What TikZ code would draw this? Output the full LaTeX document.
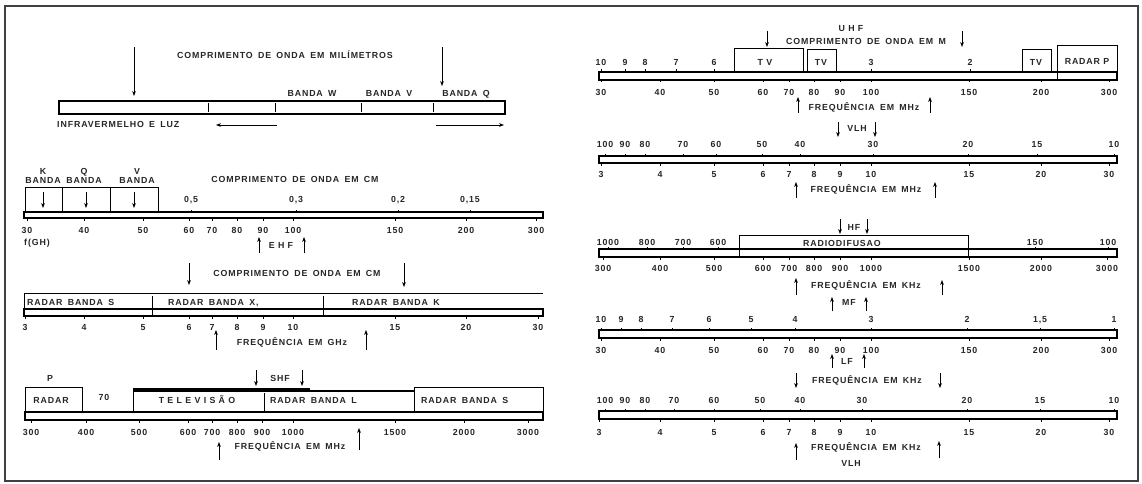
\documentclass[tikz,border=0pt]{standalone}
\usepackage{fontspec}
\setmainfont{Liberation Sans}[LetterSpace=10]
\usetikzlibrary{arrows.meta}
\newcommand{\wsp}{\hspace{0.6em}}
\tikzset{
  txt/.style={font=\fontsize{8.8}{9}\selectfont\bfseries, inner sep=0pt, text=black!85,
    text height=6.4pt, text depth=0pt},
  bar/.style={line width=1.1pt},
  tick/.style={line width=0.7pt},
  band/.style={line width=1pt},
  arr/.style={-{Stealth[length=5pt,width=3.8pt]}, line width=0.9pt},
}
\begin{document}
\begin{tikzpicture}[x=1pt,y=-1pt]
  \useasboundingbox (0,0) rectangle (1142,484);
  \draw[line width=1.5pt, black!75] (5,6) rectangle (1138,481);

  % millimetres
  \node[txt] (tA) at (285,55) {COMPRIMENTO\wsp DE\wsp ONDA\wsp EM\wsp MILÍMETROS};
  \draw[arr] (134,47) -- (134,96);
  \draw[arr] (442,47) -- (442,86);
  \draw[bar] (59,101) rectangle (505,114);
  \foreach \x in {208,275,361,433} \draw[tick] (\x,103) -- (\x,112);
  \foreach \x/\t [count=\k] in {312/W,389/V,466/Q} \node[txt] (bA\k) at (\x,93) {BANDA\wsp \t};
  \node[txt, anchor=west] (ir) at (57,124) {INFRAVERMELHO\wsp E\wsp LUZ};
  \draw[arr] (277,125) -- (216,125);
  \draw[arr] (436,125) -- (504,125);

  % EHF
  \foreach \x/\t [count=\k] in {43/K,84/Q,137/V} {
    \node[txt] (lB\k) at (\x,171) {\t};
    \node[txt] (nB\k) at (\x,180) {BANDA};
  }
  \draw[band] (25,212) |- (158,187) -- (158,212);
  \foreach \x in {62,110} \draw[band] (\x,187) -- (\x,212);
  \foreach \x in {43,86,134} \draw[arr] (\x,192) -- (\x,208);
  \node[txt] (tB) at (295,179) {COMPRIMENTO\wsp DE\wsp ONDA\wsp EM\wsp CM};
  \foreach \x/\t [count=\k] in {191/{0,5},296/{0,3},398/{0,2},470/{0,15}} {
    \draw[tick] (\x,212) -- ++(0,-2.5);
    \node[txt] (wB\k) at (\x,199) {\t};
  }
  \draw[bar] (24,212) rectangle (543,218);
  \foreach \x/\t [count=\k] in {27/30,84/40,143/50,189/60,212/70,237/80,263/90,293/100,395/150,466/200,536/300} {
    \draw[tick] (\x,218) -- ++(0,2.5);
    \node[txt] (fB\k) at (\x,230) {\t};
  }
  \node[txt, anchor=west] (gh) at (24,242) {f(GH)};
  \draw[arr] (259,253) -- (259,237);
  \draw[arr] (304,253) -- (304,237);
  \node[txt] (ehf) at (281,245) {E H F};

  % GHz
  \node[txt] (tC) at (297,273) {COMPRIMENTO\wsp DE\wsp ONDA\wsp EM\wsp CM};
  \draw[arr] (189,263) -- (189,285);
  \draw[arr] (404,263) -- (404,287);
  \draw[band] (24,309) |- (543,293);
  \foreach \x in {152,323} \draw[band] (\x,296) -- (\x,316);
  \node[txt, anchor=west] (rS) at (27,302) {RADAR\wsp BANDA\wsp S};
  \node[txt, anchor=west] (rX) at (168,302) {RADAR\wsp BANDA\wsp X,};
  \node[txt, anchor=west] (rK) at (352,302) {RADAR\wsp BANDA\wsp K};
  \draw[bar] (24,309) rectangle (543,316);
  \foreach \x/\t [count=\k] in {25/3,84/4,143/5,189/6,212/7,237/8,263/9,293/10,395/15,466/20,538/30} {
    \draw[tick] (\x,316) -- ++(0,2.5);
    \node[txt] (fC\k) at (\x,327) {\t};
  }
  \draw[arr] (216,350) -- (216,330);
  \draw[arr] (366,350) -- (366,330);
  \node[txt] (qC) at (292,342) {FREQUÊNCIA\wsp EM\wsp GHz};

  % MHz left
  \node[txt] (pD) at (50,378) {P};
  \draw[arr] (256,370) -- (256,386);
  \draw[arr] (302,370) -- (302,386);
  \node[txt] (shf) at (280,378) {SHF};
  \draw[band] (25,412) |- (82,387) -- (82,412);
  \node[txt] (rD) at (51,400) {RADAR};
  \node[txt] (sD) at (104,397) {70};
  \draw[line width=3.5pt] (133,390) -- (310,390);
  \draw[line width=2pt] (310,391) -- (414,391);
  \draw[band] (133,390) -- (133,412);
  \draw[band] (264,393) -- (264,412);
  \draw[band] (414,412) |- (543,387) -- (543,412);
  \node[txt] (tv) at (197,400) {T E L E V I S Ã O};
  \node[txt, anchor=west] (rL) at (270,400) {RADAR\wsp BANDA\wsp L};
  \node[txt, anchor=west] (rS2) at (421,400) {RADAR\wsp BANDA\wsp S};
  \draw[bar] (25,412) rectangle (543,420);
  \foreach \x/\t [count=\k] in {31/300,86/400,139/500,188/600,212/700,237/800,262/900,293/1000,395/1500,464/2000,528/3000} {
    \draw[tick] (\x,420) -- ++(0,2.5);
    \node[txt] (fD\k) at (\x,432) {\t};
  }
  \draw[arr] (219,460) -- (219,442);
  \draw[arr] (359,450) -- (359,428);
  \node[txt] (qD) at (290,446) {FREQUÊNCIA\wsp EM\wsp MHz};

  % UHF
  \node[txt] (uhf) at (851,28) {U H F};
  \node[txt] (t1) at (866,41) {COMPRIMENTO\wsp DE\wsp ONDA\wsp EM\wsp M};
  \draw[arr] (767,31) -- (767,47);
  \draw[arr] (962,31) -- (962,47);
  \draw[band] (734,72) |- (803,49) -- (803,72);
  \draw[band] (807,72) |- (836,50) -- (836,72);
  \draw[band] (1022,72) |- (1051,50) -- (1051,72);
  \draw[band] (1057,80) |- (1117,46) -- (1117,80);
  \node[txt] (tv1) at (765,62) {T V};
  \node[txt] (tv2) at (821,62) {TV};
  \node[txt] (tv3) at (1036,62) {TV};
  \node[txt] (rp) at (1087,61) {RADAR P};
  \foreach \x/\t [count=\k] in {601/10,625/9,645/8,676/7,714/6,871/3,970/2} {
    \draw[tick] (\x,72) -- ++(0,-2.5);
    \node[txt] (w1\k) at (\x,62) {\t};
  }
  \draw[bar] (599,72) rectangle (1117,80);
  \foreach \x/\t [count=\k] in {601/30,660/40,714/50,763/60,789/70,814/80,840/90,871/100,969/150,1041/200,1109/300} {
    \draw[tick] (\x,80) -- ++(0,2.5);
    \node[txt] (f1\k) at (\x,92) {\t};
  }
  \draw[arr] (798,113) -- (798,97);
  \draw[arr] (930,113) -- (930,97);
  \node[txt] (q1) at (864,107) {FREQUÊNCIA\wsp EM\wsp MHz};

  % VLH MHz
  \draw[arr] (838,122) -- (838,137);
  \draw[arr] (875,122) -- (875,137);
  \node[txt] (vlh1) at (857,128) {VLH};
  \foreach \x/\t [count=\k] in {605/100,625/90,645/80,683/70,716/60,762/50,800/40,873/30,968/20,1037/15,1114/10} {
    \draw[tick] (\x,156) -- ++(0,-2.5);
    \node[txt] (w2\k) at (\x,144) {\t};
  }
  \draw[bar] (599,156) rectangle (1117,163);
  \foreach \x/\t [count=\k] in {601/3,660/4,714/5,763/6,789/7,814/8,840/9,871/10,969/15,1041/20,1109/30} {
    \draw[tick] (\x,163) -- ++(0,2.5);
    \node[txt] (f2\k) at (\x,174) {\t};
  }
  \draw[arr] (796,198) -- (796,182);
  \draw[arr] (935,198) -- (935,182);
  \node[txt] (q2) at (866,189) {FREQUÊNCIA\wsp EM\wsp MHz};

  % HF
  \draw[arr] (840,219) -- (840,234);
  \draw[arr] (867,219) -- (867,234);
  \node[txt] (hf) at (854,227) {HF};
  \draw[band] (739,257) |- (968,235) -- (968,257);
  \node[txt] (rd) at (842,243) {RADIODIFUSAO};
  \foreach \x/\t [count=\k] in {608/1000,647/800,683/700,718/600,1035/150,1108/100} {
    \draw[tick] (\x,249) -- ++(0,-2.5);
    \node[txt] (w3\k) at (\x,242) {\t};
  }
  \draw[bar] (599,249) rectangle (1117,257);
  \foreach \x/\t [count=\k] in {603/300,660/400,714/500,763/600,789/700,814/800,840/900,871/1000,969/1500,1041/2000,1107/3000} {
    \draw[tick] (\x,257) -- ++(0,2.5);
    \node[txt] (f3\k) at (\x,268) {\t};
  }
  \draw[arr] (796,295) -- (796,278);
  \draw[arr] (942,295) -- (942,280);
  \node[txt] (q3) at (866,285) {FREQUÊNCIA\wsp EM\wsp KHz};
  \draw[arr] (832,311) -- (832,297);
  \draw[arr] (866,311) -- (866,297);
  \node[txt] (mf) at (849,302) {MF};

  % LF
  \foreach \x/\t [count=\k] in {601/10,621/9,641/8,672/7,709/6,751/5,795/4,871/3,967/2,1040/{1,5},1114/1} {
    \draw[tick] (\x,330) -- ++(0,-2.5);
    \node[txt] (w4\k) at (\x,319) {\t};
  }
  \draw[bar] (599,330) rectangle (1117,338);
  \foreach \x/\t [count=\k] in {601/30,660/40,714/50,763/60,789/70,814/80,840/90,871/100,969/150,1041/200,1109/300} {
    \draw[tick] (\x,338) -- ++(0,2.5);
    \node[txt] (f4\k) at (\x,350) {\t};
  }
  \draw[arr] (832,368) -- (832,354);
  \draw[arr] (864,368) -- (864,354);
  \node[txt] (lf) at (847,361) {LF};
  \draw[arr] (796,373) -- (796,388);
  \draw[arr] (940,373) -- (940,388);
  \node[txt] (q4) at (867,380) {FREQUÊNCIA\wsp EM\wsp KHz};

  % VLH kHz
  \foreach \x/\t [count=\k] in {605/100,625/90,645/80,674/70,714/60,760/50,800/40,862/30,967/20,1040/15,1114/10} {
    \draw[tick] (\x,411) -- ++(0,-2.5);
    \node[txt] (w5\k) at (\x,400) {\t};
  }
  \draw[bar] (599,411) rectangle (1117,419);
  \foreach \x/\t [count=\k] in {599/3,660/4,714/5,763/6,789/7,814/8,840/9,871/10,969/15,1041/20,1109/30} {
    \draw[tick] (\x,419) -- ++(0,2.5);
    \node[txt] (f5\k) at (\x,432) {\t};
  }
  \draw[arr] (796,460) -- (796,443);
  \draw[arr] (939,458) -- (939,441);
  \node[txt] (q5) at (866,447) {FREQUÊNCIA\wsp EM\wsp KHz};
  \node[txt] (vlh2) at (851,463) {VLH};
\end{tikzpicture}
\end{document}
